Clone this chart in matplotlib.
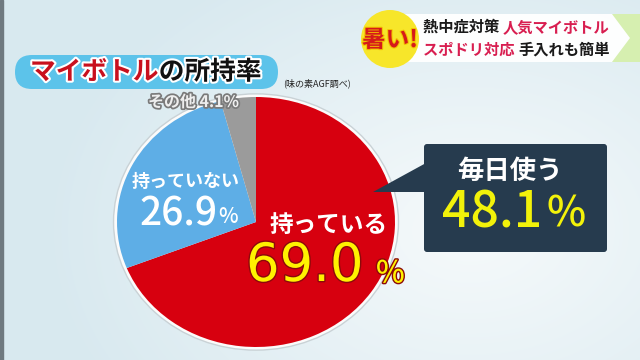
import numpy as np
import matplotlib
matplotlib.use("Agg")
import matplotlib.pyplot as plt
from matplotlib import patheffects as pe
from matplotlib.patches import FancyBboxPatch, Circle, Polygon, Ellipse, Rectangle

plt.rcParams['font.family'] = ['Noto Sans CJK JP', 'DejaVu Sans']

# ---- data ----
labels = ['持っている', '持っていない', 'その他']
values = [69.0, 26.9, 4.1]
colors = ['#d7000f', '#5eaee6', '#9b9b9b']
daily_label = '毎日使う'
daily_value = 48.1
title_red = 'マイボトル'
title_black = 'の所持率'
source = '(味の素AGF調べ)'
banner_line1 = ['熱中症対策 ', '人気マイボトル']
banner_line2 = ['スポドリ対応 ', '手入れも簡単']

W, H = 640, 360
fig = plt.figure(figsize=(6.4, 3.6), dpi=100)

# background gradient
bg = fig.add_axes([0, 0, 1, 1], zorder=0)
yy, xx = np.mgrid[0:H, 0:W]
d = np.sqrt(((xx - 470) / 420.0) ** 2 + ((yy - 230) / 300.0) ** 2)
d = np.clip(d, 0, 1)
c0 = np.array([0.965, 0.980, 0.985])
c1 = np.array([0.850, 0.915, 0.940])
img = c0[None, None, :] * (1 - d[..., None]) + c1[None, None, :] * d[..., None]
bg.imshow(img, extent=[0, W, H, 0], aspect='auto')
bg.set_xlim(0, W); bg.set_ylim(H, 0); bg.axis('off')
bg.add_patch(Rectangle((0, 0), 3, H, color='#6f7a80'))

# pie axes (slightly elliptical, as in the reference)
cx, cy, rx, ry = 256, 222, 139, 125
m = 1.06
pax = fig.add_axes([(cx - rx * m) / W, 1 - (cy + ry * m) / H, 2 * rx * m / W, 2 * ry * m / H], zorder=1)
pax.patch.set_alpha(0)
pax.add_patch(Ellipse((0, 0), 2.05, 2.05, facecolor='#fbfbfb', edgecolor='#c9d2d6', lw=1.0, zorder=0))
pax.pie(values, colors=colors, startangle=90, counterclock=False, radius=1,
        wedgeprops=dict(linewidth=0))
pax.set_aspect('auto')
pax.set_xlim(-m, m); pax.set_ylim(-m, m)
pax.axis('off')

# overlay axes in pixel coordinates
ov = fig.add_axes([0, 0, 1, 1], zorder=2)
ov.patch.set_alpha(0)
ov.set_xlim(0, W); ov.set_ylim(H, 0); ov.axis('off')

renderer = fig.canvas.get_renderer()


def text_run(x, y, parts, **kw):
    """Place coloured pieces of text one after another on one line."""
    for s, col in parts:
        t = ov.text(x, y, s, color=col, ha='left', va='center', **kw)
        bb = t.get_window_extent(renderer)
        x = bb.x1
    return x


white_stroke = [pe.withStroke(linewidth=3, foreground='white')]

# title box
ov.add_patch(FancyBboxPatch((15, 55), 263, 34, boxstyle='round,pad=0,rounding_size=17',
                            facecolor='#5cc3ea', edgecolor='none'))
text_run(30, 72, [(title_red, '#c8101e'), (title_black, '#111111')],
         fontsize=18.5, fontweight='bold', path_effects=white_stroke)
ov.text(283, 83, source, color='#222222', fontsize=6.5, va='center', ha='left')

# top-right banner
ov.add_patch(Polygon([(400, 14), (625, 14), (640, 38), (625, 62), (400, 62)],
                     closed=True, facecolor='white', edgecolor='none', alpha=0.95))
ov.add_patch(Polygon([(612, 14), (640, 14), (640, 62), (612, 62), (630, 38)],
                     closed=True, facecolor='#d6efb0', edgecolor='none'))
ov.add_patch(Circle((390, 39), 29, facecolor='#f7e62a', edgecolor='none'))
ov.text(390, 40, '暑い!', color='#d61a1a', fontsize=17, fontweight='bold',
        ha='center', va='center', path_effects=[pe.withStroke(linewidth=1.5, foreground='#f2c400')])
text_run(423, 27, [(banner_line1[0], '#1a1a1a'), (banner_line1[1], '#d81e50')],
         fontsize=11, fontweight='bold')
text_run(423, 50, [(banner_line2[0], '#d81e50'), (banner_line2[1], '#1a1a1a')],
         fontsize=11, fontweight='bold')

# callout box
ov.add_patch(Polygon([(373, 192), (426, 163), (426, 192)], closed=True,
                     facecolor='#263b4e', edgecolor='none'))
ov.add_patch(FancyBboxPatch((424, 144), 183, 108, boxstyle='round,pad=0,rounding_size=3',
                            facecolor='#263b4e', edgecolor='none'))
ov.text(510, 171, daily_label, color='white', fontsize=19, fontweight='bold', ha='center', va='center')
ov.text(442, 213, f'{daily_value:.1f}', color='#f2f20a', fontsize=36, fontweight='medium',
        ha='left', va='center')
ov.text(546, 214, '%', color='#f2f20a', fontsize=30, fontweight='medium', ha='left', va='center')

# slice labels
other_stroke = [pe.withStroke(linewidth=2.5, foreground='#7a7a7a')]
ov.text(148, 102, f'{labels[2]} {values[2]:.1f}%', color='#eeeeee', fontsize=11.5, fontweight='bold',
        ha='left', va='center', path_effects=other_stroke)

ov.text(186, 181, labels[1], color='white', fontsize=13, fontweight='bold', ha='center', va='center')
ov.text(139, 214, f'{values[1]:.1f}', color='white', fontsize=28, fontweight='medium',
        ha='left', va='center')
ov.text(218, 217, '%', color='white', fontsize=15, fontweight='medium', ha='left', va='center')

ov.text(329, 225, labels[0], color='white', fontsize=17, fontweight='bold', ha='center', va='center')
ystroke = [pe.withStroke(linewidth=2, foreground='#8c0a0a')]
ov.text(246, 266, f'{values[0]:.1f}', color='#fff200', fontsize=38, family='DejaVu Sans',
        ha='left', va='center', path_effects=ystroke)
ov.text(376, 274, '%', color='#fff200', fontsize=22, fontweight='medium',
        ha='left', va='center', path_effects=ystroke)

fig.savefig('out.png', dpi=100)
